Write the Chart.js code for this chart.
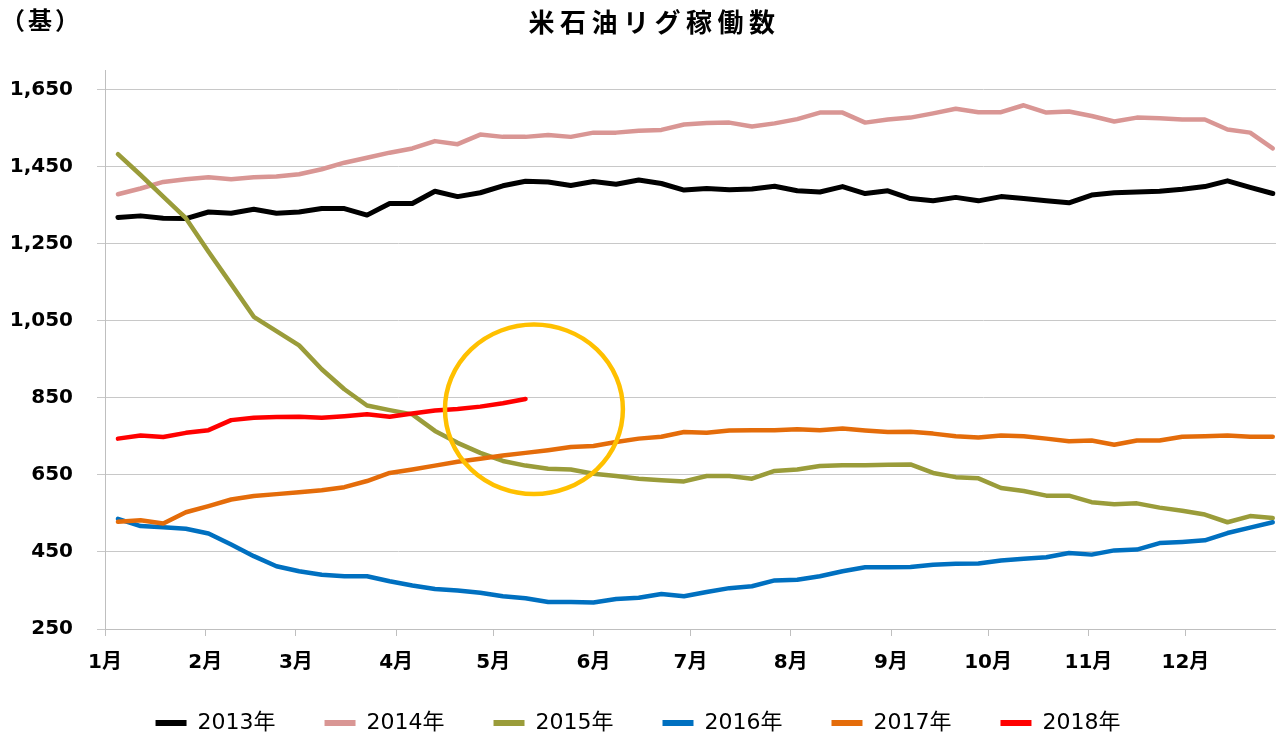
<!DOCTYPE html>
<html lang="ja">
<head>
  <meta charset="UTF-8" />
  <title>米石油リグ稼働数</title>
  <script src="https://cdn.jsdelivr.net/npm/chart.js"></script>
  <style>
    body {
      margin: 0;
      background: #fff;
    }
    #chartBox {
      width: 1276px;
      height: 739px;
    }
  </style>
</head>
<body>
  <div id="chartBox">
    <canvas id="rigChart"></canvas>
  </div>

<script>
  // weekly oil rig counts (one value per weekly report)
  const years = ['2013年', '2014年', '2015年', '2016年', '2017年', '2018年'];

  const rigs2013 = [1318, 1322, 1316, 1315, 1332, 1329, 1339, 1329, 1332, 1341, 1341, 1324, 1354,
    1354, 1386, 1372, 1382, 1400, 1412, 1410, 1401, 1411, 1404, 1415, 1406, 1389,
    1393, 1390, 1392, 1399, 1387, 1384, 1398, 1380, 1387, 1367, 1361, 1370, 1361,
    1372, 1367, 1361, 1356, 1376, 1382, 1384, 1386, 1391, 1398, 1413, 1396, 1380];
  const rigs2014 = [1378, 1393, 1410, 1417, 1422, 1417, 1422, 1424, 1430, 1443, 1460, 1473, 1486,
    1497, 1516, 1508, 1533, 1527, 1527, 1532, 1527, 1538, 1538, 1543, 1545, 1559,
    1563, 1564, 1554, 1562, 1573, 1590, 1590, 1564, 1572, 1577, 1588, 1600, 1591,
    1591, 1609, 1590, 1593, 1581, 1567, 1577, 1575, 1572, 1572, 1546, 1538, 1497];
  const rigs2015 = [1482, 1428, 1372, 1316, 1229, 1145, 1060, 1023, 986, 924, 872, 830, 818,
    807, 764, 733, 707, 686, 674, 666, 664, 653, 647, 640, 636, 633,
    647, 647, 640, 660, 664, 673, 675, 675, 676, 677, 655, 644, 641,
    616, 608, 596, 596, 579, 574, 576, 565, 557, 547, 527, 543, 538];
  const rigs2016 = [536, 517, 514, 510, 498, 469, 439, 413, 400, 391, 387, 387, 374,
    363, 354, 350, 344, 335, 330, 320, 320, 319, 328, 331, 341, 335,
    346, 356, 361, 376, 378, 387, 400, 410, 410, 411, 417, 419, 420,
    428, 432, 436, 447, 443, 454, 456, 473, 476, 480, 499, 513, 527];
  const rigs2017 = [528, 532, 524, 553, 569, 586, 595, 600, 605, 610, 618, 634, 655,
    664, 674, 684, 692, 700, 707, 714, 722, 725, 735, 744, 749, 761,
    759, 765, 766, 766, 768, 766, 770, 765, 761, 762, 757, 750, 747,
    752, 750, 744, 737, 739, 728, 739, 739, 749, 750, 752, 749, 749];
  const rigs2018 = [744, 752, 748, 759, 766, 792, 798, 800, 801, 798, 802, 807, 801,
    809, 817, 821, 827, 836, 847];

  const seriesValues = [rigs2013, rigs2014, rigs2015, rigs2016, rigs2017, rigs2018];
  const seriesColors = ['#000000', '#D99694', '#9A9C3A', '#0070C0', '#E46C0A', '#FF0000'];

  // x axis: days since 1 Jan, ticks at the first day of each month
  const monthStarts = [0, 31, 59, 90, 120, 151, 181, 212, 243, 273, 304, 334];
  const monthLabels = ['1月', '2月', '3月', '4月', '5月', '6月', '7月', '8月', '9月', '10月', '11月', '12月'];
  const firstReportDay = 4;
  const yTicks = [250, 450, 650, 850, 1050, 1250, 1450, 1650];

  // the yellow ring drawn around the latest 2018 readings (data units)
  const highlight = { day: 132.6, value: 820, halfDays: 27.5, halfValue: 220 };

  const datasets = seriesValues.map((vals, i) => ({
    label: years[i],
    data: vals.map((v, w) => ({ x: firstReportDay + 7 * w, y: v })),
    borderColor: seriesColors[i],
    backgroundColor: seriesColors[i],
    borderWidth: i === 0 ? 5 : 4.5,
    borderJoinStyle: 'round',
    borderCapStyle: 'round',
    pointRadius: 0,
    tension: 0,
    fill: false,
    order: seriesValues.length - i
  }));

  // unit label, ring, title spacing and legend placement
  const extras = {
    id: 'extras',
    afterLayout(chart) {
      const title = chart.titleBlock;
      if (title) {
        // the original title sits a little right of the page centre, letter-spaced
        title.left = 33;
        const drawTitle = title.draw;
        title.draw = function () {
          this.ctx.save();
          this.ctx.letterSpacing = '5.5px';
          drawTitle.apply(this, arguments);
          this.ctx.restore();
        };
      }
      // legend row sits just under the month labels (bottom edge stays put)
      const legend = chart.legend;
      if (legend) {
        legend.top -= 16;
      }
    },
    afterDatasetsDraw(chart) {
      const ctx = chart.ctx;
      const xs = chart.scales.x, ys = chart.scales.y;
      const cx = xs.getPixelForValue(highlight.day);
      const cy = ys.getPixelForValue(highlight.value);
      const rx = xs.getPixelForValue(highlight.day + highlight.halfDays) - cx;
      const ry = cy - ys.getPixelForValue(highlight.value + highlight.halfValue);
      ctx.save();
      ctx.strokeStyle = '#FFC000';
      ctx.lineWidth = 4.5;
      ctx.beginPath();
      ctx.ellipse(cx, cy, rx, ry, 0, 0, Math.PI * 2);
      ctx.stroke();
      ctx.restore();
    },
    afterDraw(chart) {
      const ctx = chart.ctx;
      ctx.save();
      ctx.fillStyle = '#000';
      ctx.font = 'bold 24px "Noto Sans CJK JP"';
      ctx.letterSpacing = '3px';
      ctx.textBaseline = 'middle';
      ctx.textAlign = 'left';
      ctx.fillText('（基）', 1, 20);
      ctx.restore();
    }
  };

  Chart.defaults.color = '#000';

  new Chart(document.getElementById('rigChart'), {
    type: 'line',
    data: { datasets: datasets },
    plugins: [extras],
    options: {
      responsive: true,
      maintainAspectRatio: false,
      animation: false,
      events: [],
      layout: { padding: 0 },
      scales: {
        x: {
          type: 'linear',
          min: 0,
          max: 362,
          afterBuildTicks: scale => {
            scale.ticks = monthStarts.map(v => ({ value: v }));
          },
          afterFit: scale => { scale.height = 50; },
          grid: {
            drawOnChartArea: false,
            drawTicks: true,
            tickLength: 7,
            color: '#BFBFBF'
          },
          border: { display: true, color: '#BFBFBF' },
          ticks: {
            autoSkip: false,
            maxRotation: 0,
            padding: 15,
            font: { family: '"DejaVu Sans", "Noto Sans CJK JP"', size: 20, weight: 'bold' },
            callback: v => monthLabels[monthStarts.indexOf(v)]
          }
        },
        y: {
          min: 250,
          max: 1700,
          afterBuildTicks: scale => {
            scale.ticks = yTicks.map(v => ({ value: v }));
          },
          afterFit: scale => { scale.width = 105; },
          grid: {
            color: '#C8C8C8',
            tickLength: 8
          },
          border: { display: true, color: '#BFBFBF' },
          ticks: {
            padding: 24,
            font: { family: '"DejaVu Sans"', size: 20, weight: 'bold' },
            callback: v => v.toLocaleString('en-US')
          }
        }
      },
      plugins: {
        title: {
          display: true,
          text: '米石油リグ稼働数',
          color: '#000',
          font: { family: '"Noto Sans CJK JP"', size: 26, weight: 'bold' },
          padding: { top: 7, bottom: 32 }
        },
        legend: {
          position: 'bottom',
          maxHeight: 60,
          labels: {
            boxWidth: 31,
            boxHeight: 6,
            padding: 49,
            color: '#000',
            font: { family: '"DejaVu Sans", "Noto Sans CJK JP"', size: 22 },
            sort: (a, b) => a.datasetIndex - b.datasetIndex,
            generateLabels: chart =>
              Chart.defaults.plugins.legend.labels.generateLabels(chart)
                .map(item => ({ ...item, lineWidth: 0, fillStyle: item.strokeStyle }))
          }
        },
        tooltip: { enabled: false }
      }
    }
  });
</script>
</body>
</html>
